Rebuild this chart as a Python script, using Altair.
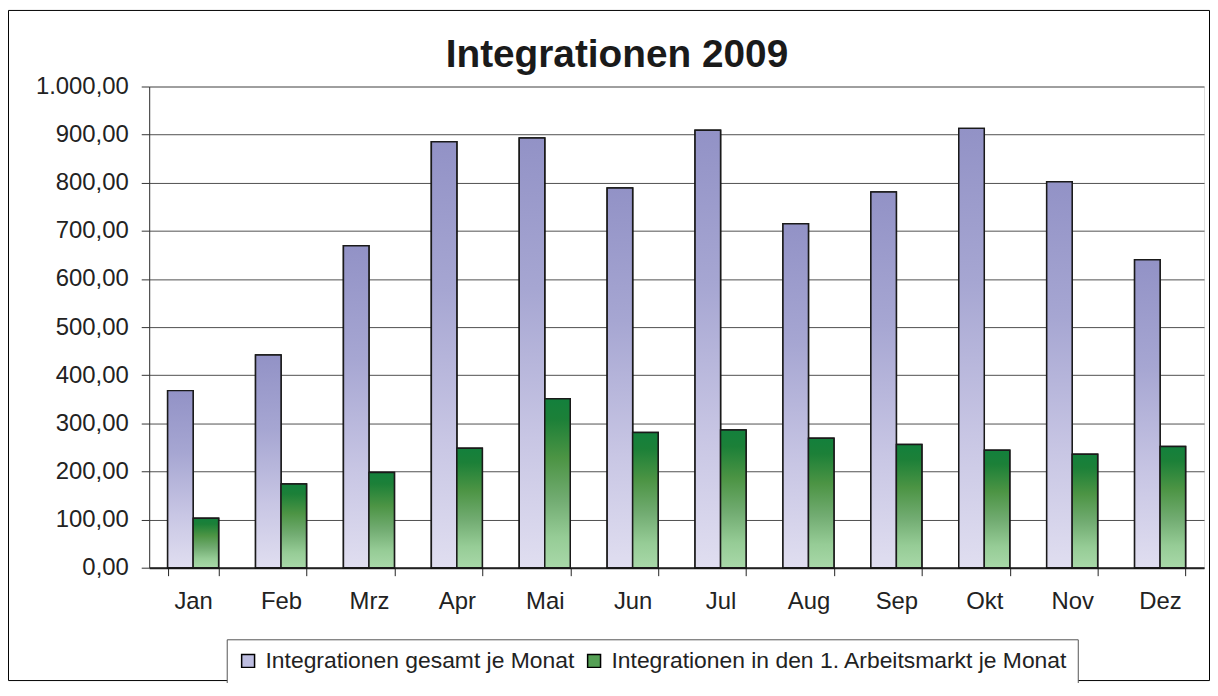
import altair as alt
import pandas as pd

months = ["Jan", "Feb", "Mrz", "Apr", "Mai", "Jun", "Jul", "Aug", "Sep", "Okt", "Nov", "Dez"]
series = ["Integrationen gesamt je Monat", "Integrationen in den 1. Arbeitsmarkt je Monat"]
gesamt = [368, 442, 669, 885, 893, 789, 909, 715, 781, 913, 802, 640]
arbeitsmarkt = [103, 174, 198, 248, 351, 281, 286, 269, 256, 244, 236, 252]
y_ticks = [0, 100, 200, 300, 400, 500, 600, 700, 800, 900, 1000]

rows = []
for m, a, b in zip(months, gesamt, arbeitsmarkt):
    rows.append({"Monat": m, "Serie": series[0], "Wert": a})
    rows.append({"Monat": m, "Serie": series[1], "Wert": b})
df = pd.DataFrame(rows)

FONT = "Liberation Sans"

grad_purple = alt.Gradient(
    gradient="linear", x1=0, x2=0, y1=0, y2=1,
    stops=[
        alt.GradientStop(color="#9292C6", offset=0),
        alt.GradientStop(color="#A6A6D2", offset=0.35),
        alt.GradientStop(color="#C8C6E4", offset=0.7),
        alt.GradientStop(color="#E0DEF0", offset=1),
    ],
)
grad_green = alt.Gradient(
    gradient="linear", x1=0, x2=0, y1=0, y2=1,
    stops=[
        alt.GradientStop(color="#13803C", offset=0),
        alt.GradientStop(color="#1C8038", offset=0.12),
        alt.GradientStop(color="#4C9444", offset=0.35),
        alt.GradientStop(color="#72AC72", offset=0.6),
        alt.GradientStop(color="#96CC96", offset=0.82),
        alt.GradientStop(color="#A8D8A8", offset=1),
    ],
)

x_enc = alt.X(
    "Monat:N", sort=months,
    scale=alt.Scale(domain=months, paddingInner=0.42, paddingOuter=0.21),
    axis=alt.Axis(
        title=None, labelAngle=0, tickBand="extent", tickSize=8,
        tickColor="#222", domainColor="#222", domainWidth=2,
        labelFont=FONT, labelFontSize=24, labelColor="#222", labelPadding=14,
        grid=False,
    ),
)
xo_enc = alt.XOffset(
    "Serie:N", sort=series,
    scale=alt.Scale(domain=series, paddingInner=0, paddingOuter=0),
)
y_enc = alt.Y(
    "Wert:Q",
    scale=alt.Scale(domain=[0, 1000], nice=False, zero=True),
    axis=alt.Axis(
        title=None, values=y_ticks, tickSize=8, tickColor="#333",
        domainColor="#333", domainWidth=1,
        grid=True, gridColor="#505050", gridWidth=1,
        labelFont=FONT, labelFontSize=24, labelColor="#222", labelPadding=13,
        labelExpr="replace(replace(replace(format(datum.value, ',.2f'), ',', '#'), '.', ','), '#', '.')",
    ),
)

base = alt.Chart(df).encode(x=x_enc, xOffset=xo_enc, y=y_enc)

plain = base.mark_bar(stroke="black", strokeWidth=1.5).encode(
    color=alt.Color(
        "Serie:N", sort=series,
        scale=alt.Scale(domain=series, range=["#BDBDE0", "#55A055"]),
        legend=alt.Legend(
            title=None, orient="none", direction="horizontal",
            legendX=78, legendY=556,
            symbolType="square", symbolSize=169, symbolStrokeColor="black",
            symbolStrokeWidth=1.5, symbolOpacity=1,
            labelFont=FONT, labelFontSize=23, labelColor="#222", labelOffset=6,
            labelLimit=0, columnPadding=8,
            padding=10, strokeColor="#555", fillColor="white",
        ),
    )
)

bars_p = base.transform_filter(alt.datum.Serie == series[0]).mark_bar(
    fill=grad_purple, stroke="#1a1a1a", strokeWidth=1.5
)
bars_g = base.transform_filter(alt.datum.Serie == series[1]).mark_bar(
    fill=grad_green, stroke="#1a1a1a", strokeWidth=1.5
)

frame = alt.Chart(pd.DataFrame({"a": [0]})).mark_rect(
    fill="transparent", stroke="black", strokeWidth=1
).encode(
    x=alt.value(-141.5), x2=alt.value(1066.5),
    y=alt.value(-76.5), y2=alt.value(597.5),
)

chart = alt.layer(plain, bars_p, bars_g, frame).properties(
    width=1061, height=484,
    title=alt.TitleParams(
        "Integrationen 2009", font=FONT, fontSize=39, fontWeight="bold",
        color="#1a1a1a", anchor="middle", frame="group", dx=-60,
        baseline="alphabetic", offset=-96.5,
    ),
    autosize=alt.AutoSizeParams(type="none"),
    padding={"left": 142, "top": 77, "right": 6, "bottom": 114},
).configure_view(
    fill="#FAF8CF", stroke="#999999", strokeWidth=2
).configure(background="white")

chart.save("out.html", embed_options={"renderer": "svg", "actions": False})
